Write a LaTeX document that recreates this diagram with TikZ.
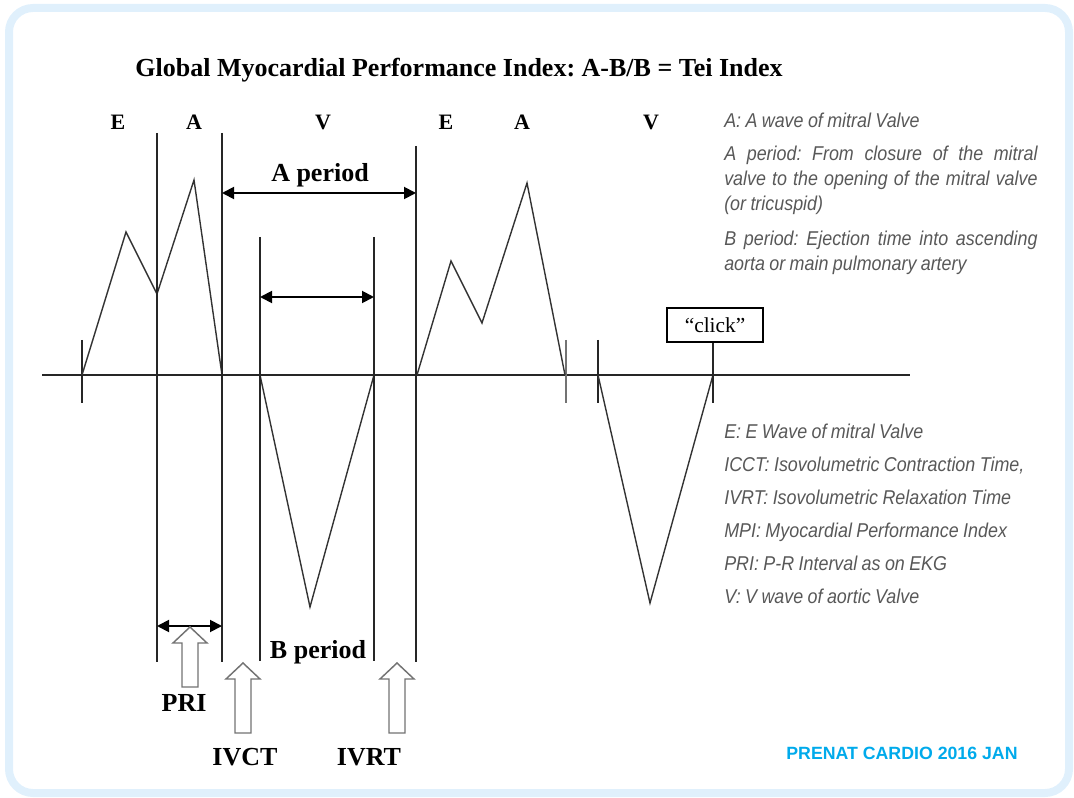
\documentclass[tikz,border=0pt]{standalone}
\usepackage{fontspec}
\setmainfont{Liberation Serif}
\newfontfamily\legendfont[FakeStretch=0.895,WordSpace=0.88]{Liberation Sans}
\newfontfamily\tagfont{Liberation Sans}
\usetikzlibrary{arrows.meta,positioning}
\definecolor{frameblue}{RGB}{224,240,252}
\definecolor{tagcyan}{RGB}{0,170,235}
\definecolor{legendgray}{RGB}{88,88,88}
\hyphenpenalty=10000
\frenchspacing

\begin{document}
\begin{tikzpicture}[x=0.75pt,y=-0.75pt,every node/.style={inner sep=0pt},
    lbl/.style={font=\bfseries\fontsize{19.5}{22}\selectfont},
    wave/.style={draw=black!80,line width=1.05pt},
    vline/.style={draw=black!85,line width=1.4pt},
    dimarrow/.style={black,line width=1.4pt,{Triangle[length=9pt,width=9pt]}-{Triangle[length=9pt,width=9pt]}},
    hollow/.style={draw=black!55,line width=1.1pt,fill=white},
    legend/.style={anchor=base west,text width=235pt,align=justify,text=legendgray,
      font=\legendfont\itshape\fontsize{15}{18.75}\selectfont}]
      \useasboundingbox (0,0) rectangle (1074,798);
      % Frame
      \draw[frameblue,line width=6pt,rounded corners=18pt] (9,8) rectangle (1069,793);
      % Title and wave letters
      \node[font=\bfseries\fontsize{19.5}{22}\selectfont] (title) at (459,70) {Global Myocardial Performance Index: A-B/B = Tei Index};
      \foreach \n/\x/\l in {e1/118/E, a1/194/A, v1/323/V, e2/446/E, a2/522/A, v2/651/V}{
        \node[font=\bfseries\fontsize{16.5}{18}\selectfont] (\n) at (\x,122) {\l};
      }
      % Baseline and ticks
      \coordinate (axL) at (42,375);
      \coordinate (axR) at (910,375);
      \draw[vline] (axL) -- (axR);
      \foreach \x/\c in {82/85, 566/55, 598/85}{
        \draw[draw=black!\c,line width=1.3pt] (\x,340) -- (\x,403);
      }
      % Doppler waves
      \draw[wave] (82,375) -- (126,232) -- (157,294) -- (194,180) -- (222,375);
      \draw[wave] (260,375) -- (310,607) -- (374,375);
      \draw[wave] (417,375) -- (451,261) -- (482,323) -- (527,183) -- (565,375);
      \draw[wave] (598,375) -- (650,603) -- (713,375);
      % Vertical markers
      \foreach \x/\t/\b in {157/133/662, 222/133/662, 260/237/661, 374/237/661, 416/146/662}{
        \draw[vline] (\x,\t) -- (\x,\b);
      }
      % Periods
      \coordinate (aperL) at (222,193);
      \coordinate (aperR) at (416,193);
      \coordinate (bperL) at (260,297);
      \coordinate (bperR) at (374,297);
      \coordinate (priL) at (157,626);
      \coordinate (priR) at (222,626);
      \draw[dimarrow] (aperL) -- (aperR);
      \node[lbl] (aper) at (320,175) {A period};
      \draw[dimarrow] (bperL) -- (bperR);
      \node[lbl] (bper) at (318,652) {B period};
      \draw[dimarrow] (priL) -- (priR);
      % Hollow arrows
      \foreach \x/\t/\b in {190/627/687, 243/663/733, 397/663/733}{
        \draw[hollow] (\x,\t) -- ++(17,16) -- ++(-9,0) -- (\x+8,\b) -- (\x-8,\b) -- (\x-8,\t+16) -- ++(-9,0) -- cycle;
      }
      \node[lbl] (pri) at (184,703) {PRI};
      \node[lbl] (ivct) at (245,757) {IVCT};
      \node[lbl] (ivrt) at (369,757) {IVRT};
      % Click
      \node[draw,line width=1.3pt,minimum width=72pt,minimum height=26pt,font=\fontsize{16}{18}\selectfont] (click) at (715,325) {“click”};
      \coordinate (clickend) at (713,403);
      \draw[vline] (click.south -| clickend) -- (clickend);
      % Legend
      \node[legend] (legA) at (724,128) {A: A wave of mitral Valve};
      \node[legend] (legAp) at (724,161) {A period: From closure of the mitral\linebreak valve to the opening of the mitral valve\linebreak (or tricuspid)};
      \node[legend] (legBp) at (724,246) {B period: Ejection time into ascending\linebreak aorta or main pulmonary artery};
      \node[legend,font=\legendfont\itshape\fontsize{15}{24.75}\selectfont] (legList) at (724,438) {E: E Wave of mitral Valve\\ ICCT: Isovolumetric Contraction Time,\\ IVRT: Isovolumetric Relaxation Time\\ MPI: Myocardial Performance Index\\ PRI: P-R Interval as on EKG\\ V: V wave of aortic Valve};
      \node[font=\tagfont\bfseries\fontsize{13.3}{15}\selectfont,text=tagcyan] (tag) at (902,753) {PRENAT CARDIO 2016 JAN};
    \end{tikzpicture}
\end{document}
